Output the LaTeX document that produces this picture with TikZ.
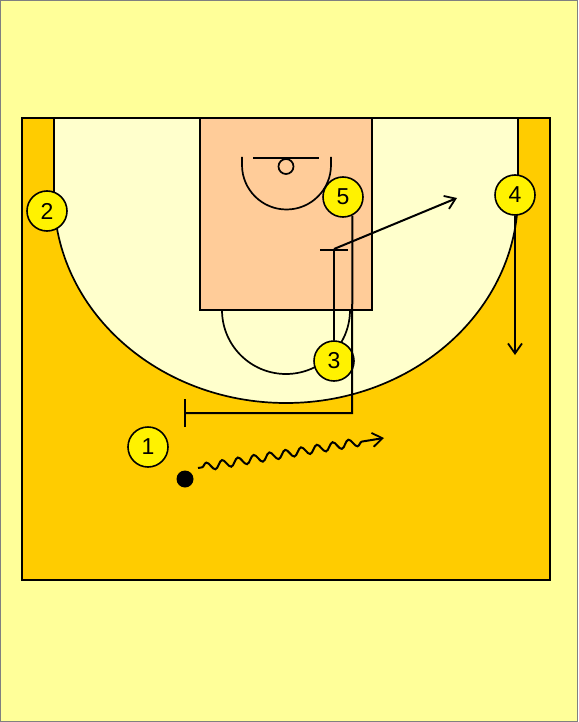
\documentclass[tikz,border=0pt]{standalone}
\usepackage{fontspec}
\setmainfont{Liberation Sans}
\usepackage{tikz}
\usetikzlibrary{arrows.meta, decorations.pathmorphing}
\definecolor{backyellow}{HTML}{FFFF99}
\definecolor{courtgold}{HTML}{FFCC00}
\definecolor{paintcream}{HTML}{FFFFCC}
\definecolor{keypeach}{HTML}{FFCC99}
\tikzstyle{player} = [circle, minimum size=40pt, inner sep=0pt, draw=black, line width=1.6pt, fill=yellow, font=\fontsize{23}{25}\selectfont]
\tikzstyle{ball} = [circle, minimum size=17pt, inner sep=0pt, fill=black]
\tikzstyle{courtline} = [line width=1.7pt, draw=black]
\tikzstyle{move} = [line width=2pt]
\tikzstyle{arrow} = [move, -{Straight Barb[length=10pt, width=14pt, line width=1.8pt]}]
\tikzstyle{screen} = [move, -{Bar[width=28pt, line width=2pt]}]
\tikzstyle{dribble} = [arrow, decorate, decoration={snake, amplitude=4pt, segment length=16pt, pre length=4pt, post length=16pt}]

\begin{document}
\begin{tikzpicture}[x=1pt, y=-1pt]
\useasboundingbox (0,0) rectangle (578,722);
\fill [backyellow] (0,0) rectangle (578,722);
\draw [gray, line width=1pt] (0.5,0.5) rectangle (577.5,721.5);
\fill [courtgold] (22,118) rectangle (550,580);
\fill [paintcream] (54,118) -- (54,195) arc[start angle=180, end angle=360, x radius=232pt, y radius=208pt] -- (518,118) -- cycle;
\draw [courtline] (54,118) -- (54,195) arc[start angle=180, end angle=360, x radius=232pt, y radius=208pt] -- (518,118);
\draw [courtline, fill=keypeach] (200,118) rectangle (372,310);
\draw [courtline] (222,310) arc[start angle=180, end angle=360, radius=64pt];
\draw [courtline] (242,157) -- (242,165) arc[start angle=180, end angle=360, radius=44.5pt] -- (331,157);
\draw [courtline] (253,158) -- (319,158);
\draw [courtline] (286,166.5) circle[radius=7.5pt];
\draw [line width=2.5pt] (22,118) rectangle (550,580);

\node (p1) [player] at (148,447) {1};
\node (p2) [player] at (47,211) {2};
\node (p3) [player] at (334,361) {3};
\node (p4) [player] at (515,195) {4};
\node (p5) [player] at (343,197) {5};
\node (ball) [ball] at (185,479) {};

\coordinate (c5) at (352,413);
\coordinate (s5) at (184,413);
\coordinate (s3) at (334,249);
\coordinate (e3) at (457,198);
\coordinate (e4) at (515,355);
\coordinate (d0) at (198,468);
\coordinate (d1) at (384,438);

\draw [screen] (p5.-63) -- (c5) -- (s5);
\draw [screen] (p3) -- (s3);
\draw [arrow] (s3) -- (e3);
\draw [arrow] (p4) -- (e4);
\draw [dribble] (d0) -- (d1);
\end{tikzpicture}
\end{document}
